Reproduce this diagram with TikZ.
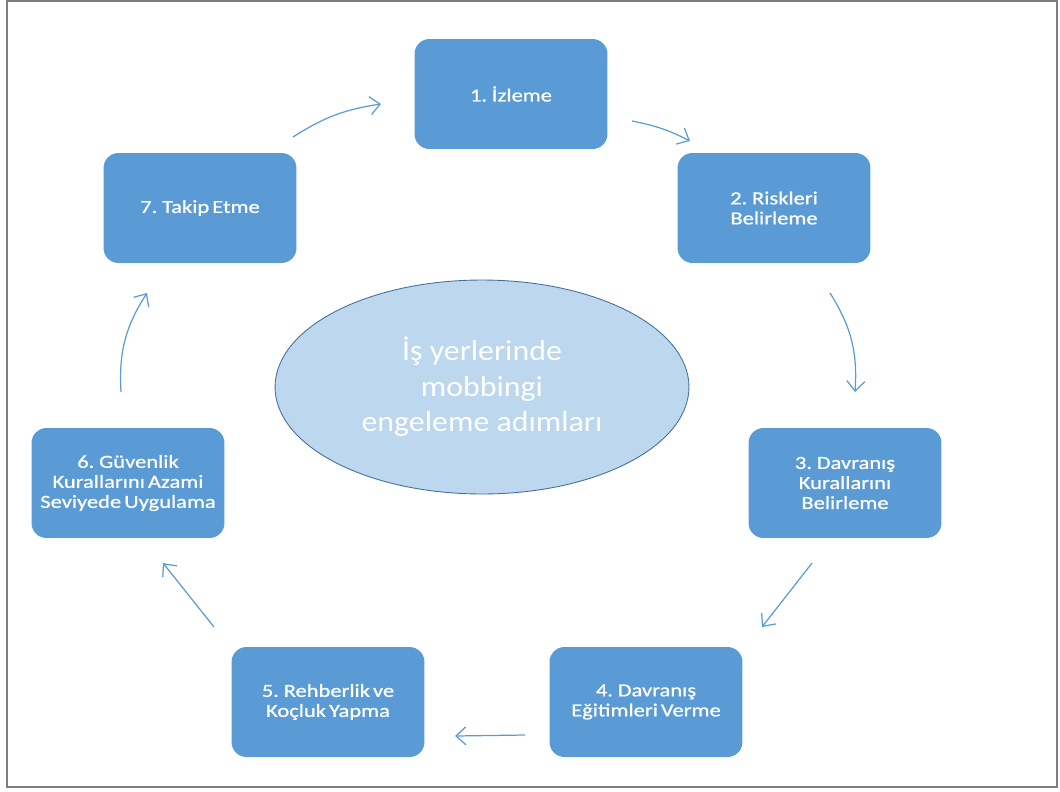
\documentclass[tikz,border=0pt]{standalone}
\usepackage{fontspec}
\setmainfont{Carlito}
\newfontfamily\stepfont[FakeStretch=1.22,FakeBold=0.8,WordSpace=0.6]{Carlito}
\newfontfamily\hubfont[FakeStretch=1.1]{Carlito}
\usepackage{xcolor}
\usepackage{tikz}
\usetikzlibrary{arrows.meta,shapes.geometric}
\definecolor{stepblue}{HTML}{5B9BD5}
\definecolor{ovalfill}{HTML}{BDD7EE}
\definecolor{ovaledge}{HTML}{41719C}
\definecolor{framegray}{HTML}{7F7F7F}

\begin{document}
\begin{tikzpicture}[x=0.02cm,y=-0.02cm,
      stepbox/.style={rectangle,rounded corners=0.3cm,fill=stepblue,
                      minimum width=3.86cm,minimum height=2.2cm,align=center,
                      text=white,font=\stepfont\fontsize{10.5}{11.4}\selectfont},
      oval/.style={ellipse,draw=ovaledge,line width=0.5pt,fill=ovalfill,
                   minimum width=8.28cm,minimum height=4.28cm,align=center,
                   text=white,font=\hubfont\fontsize{16.5}{20.2}\selectfont},
      flow/.style={draw=stepblue,line width=0.7pt,
                   -{Straight Barb[length=2mm,width=3.6mm]}}]
    \useasboundingbox (0,0) rectangle (1060,791);
    \draw[framegray,line width=1.1pt] (7,1) rectangle (1057,787);
    % center
    \node[oval] (hub) at(482,387){İş yerlerinde\\mobbingi\\engeleme adımları};
    % steps
    \node[stepbox] (s1) at(511,94) {1. İzleme};
    \node[stepbox] (s2) at(774,208){2. Riskleri\\Belirleme};
    \node[stepbox] (s3) at(845,483){3. Davranış\\Kurallarını\\Belirleme};
    \node[stepbox] (s4) at(646,702){4. Davranış\\Eğitimleri Verme};
    \node[stepbox] (s5) at(328,702){5. Rehberlik ve\\Koçluk Yapma};
    \node[stepbox] (s6) at(128,483){6. Güvenlik\\Kurallarını Azami\\Seviyede Uygulama};
    \node[stepbox] (s7) at(200,208){7. Takip Etme};
    % arrow ends
    \coordinate (a1) at(632,121); \coordinate (b1) at(690,141);
    \coordinate (a2) at(830,293); \coordinate (b2) at(855,392);
    \coordinate (a3) at(812,563); \coordinate (b3) at(762,627);
    \coordinate (a4) at(525,735); \coordinate (b4) at(455,736);
    \coordinate (a5) at(214,627); \coordinate (b5) at(163,563);
    \coordinate (a6) at(121,392); \coordinate (b6) at(147,293);
    \coordinate (a7) at(293,137); \coordinate (b7) at(381,104);
    \draw[flow] (a1) to[bend left=8] (b1);
    \draw[flow] (a2) to[bend left=18] (b2);
    \draw[flow] (a3) -- (b3);
    \draw[flow] (a4) -- (b4);
    \draw[flow] (a5) -- (b5);
    \draw[flow] (a6) to[bend left=18] (b6);
    \draw[flow] (a7) to[bend left=12] (b7);
  \end{tikzpicture}
\end{document}
